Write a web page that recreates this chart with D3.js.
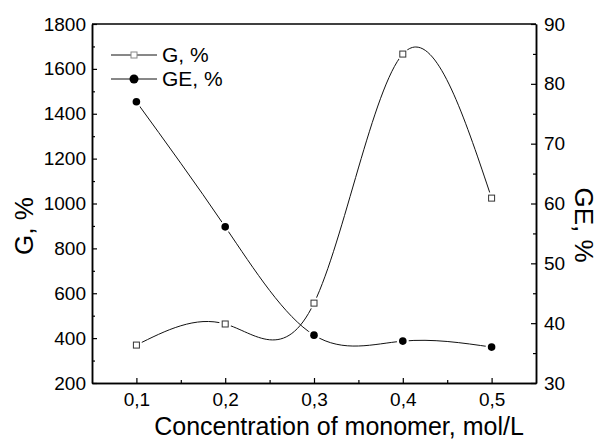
<!DOCTYPE html>
<html>
<head>
<meta charset="utf-8">
<script src="https://cdn.jsdelivr.net/npm/d3@7"></script>
<style>
  body { margin: 0; background: #fff; }
  text { font-family: "Liberation Sans", Arial, sans-serif; fill: #000; }
</style>
</head>
<body>
<script>
'use strict';
(function() {

  // concentration of monomer, mol/L
  const concentration = [0.1, 0.2, 0.3, 0.4, 0.5];
  // grafting percentage G, %
  const gValues = [369, 463, 556, 1666, 1024];
  // grafting efficiency GE, %
  const geValues = [77.0, 56.1, 38.0, 37.0, 36.0];

  const xTicks = [0.1, 0.2, 0.3, 0.4, 0.5];
  const xMinor = [0.15, 0.25, 0.35, 0.45];
  const gTicks = [200, 400, 600, 800, 1000, 1200, 1400, 1600, 1800];
  const gMinor = [300, 500, 700, 900, 1100, 1300, 1500, 1700];
  const geTicks = [30, 40, 50, 60, 70, 80, 90];
  const geMinor = [35, 45, 55, 65, 75, 85];

  const width = 598, height = 442;
  const left = 92, right = 536, top = 24, bottom = 383;

  let svg = d3.select('body').append('svg')
    .attr('width', width)
    .attr('height', height);

  let xScale = d3.scaleLinear().domain([0.05, 0.55]).range([left, right]);
  let gScale = d3.scaleLinear().domain([200, 1800]).range([bottom, top]);
  let geScale = d3.scaleLinear().domain([30, 90]).range([bottom, top]);

  let fmt = d => String(d).replace('.', ',');

  // x axis (ticks point inward)
  svg.append('g')
    .attr('transform', `translate(0,${bottom})`)
    .call(d3.axisBottom(xScale).tickValues(xTicks).tickFormat(fmt)
      .tickSize(-5).tickSizeOuter(0).tickPadding(10))
    .call(styleAxis);
  svg.append('g')
    .attr('transform', `translate(0,${bottom})`)
    .call(d3.axisBottom(xScale).tickValues(xMinor).tickFormat('')
      .tickSize(-3).tickSizeOuter(0))
    .call(styleAxis);

  // left axis G
  svg.append('g')
    .attr('transform', `translate(${left},0)`)
    .call(d3.axisLeft(gScale).tickValues(gTicks).tickFormat(d3.format('d'))
      .tickSize(-5).tickSizeOuter(0).tickPadding(6))
    .call(styleAxis);
  svg.append('g')
    .attr('transform', `translate(${left},0)`)
    .call(d3.axisLeft(gScale).tickValues(gMinor).tickFormat('')
      .tickSize(-3).tickSizeOuter(0))
    .call(styleAxis);

  // right axis GE
  svg.append('g')
    .attr('transform', `translate(${right},0)`)
    .call(d3.axisRight(geScale).tickValues(geTicks).tickFormat(d3.format('d'))
      .tickSize(-5).tickSizeOuter(0).tickPadding(8))
    .call(styleAxis);
  svg.append('g')
    .attr('transform', `translate(${right},0)`)
    .call(d3.axisRight(geScale).tickValues(geMinor).tickFormat('')
      .tickSize(-3).tickSizeOuter(0))
    .call(styleAxis);

  // top frame line
  svg.append('line')
    .attr('x1', left).attr('x2', right)
    .attr('y1', top).attr('y2', top)
    .style('stroke', '#000').style('stroke-width', 1.5);

  function styleAxis(g) {
    g.select('.domain').style('stroke', '#000').style('stroke-width', 1.5);
    g.selectAll('.tick line').style('stroke', '#000').style('stroke-width', 1.2);
    g.selectAll('.tick text').style('font-size', '19px')
      .style('font-family', '"Liberation Sans", Arial, sans-serif');
  }

  // smooth curves
  let gLine = d3.line()
    .x((d, i) => xScale(concentration[i]))
    .y(d => gScale(d))
    .curve(d3.curveNatural);
  let geLine = d3.line()
    .x((d, i) => xScale(concentration[i]))
    .y(d => geScale(d))
    .curve(d3.curveNatural);

  svg.append('path').datum(gValues)
    .attr('d', gLine)
    .style('fill', 'none').style('stroke', '#111').style('stroke-width', 1);
  svg.append('path').datum(geValues)
    .attr('d', geLine)
    .style('fill', 'none').style('stroke', '#111').style('stroke-width', 1);

  // white gaps around symbols like the original plot
  svg.selectAll('.gapG')
    .data(gValues).enter().append('circle')
    .attr('cx', (d, i) => xScale(concentration[i]))
    .attr('cy', d => gScale(d))
    .attr('r', 6)
    .style('fill', '#fff');
  svg.selectAll('.gapGE')
    .data(geValues).enter().append('circle')
    .attr('cx', (d, i) => xScale(concentration[i]))
    .attr('cy', d => geScale(d))
    .attr('r', 6)
    .style('fill', '#fff');

  // markers
  svg.selectAll('.sq')
    .data(gValues).enter().append('rect')
    .attr('x', (d, i) => xScale(concentration[i]) - 3)
    .attr('y', d => gScale(d) - 3)
    .attr('width', 6).attr('height', 6)
    .style('fill', '#fff').style('stroke', '#333').style('stroke-width', 1);
  svg.selectAll('.dot')
    .data(geValues).enter().append('circle')
    .attr('cx', (d, i) => xScale(concentration[i]))
    .attr('cy', d => geScale(d))
    .attr('r', 3.8)
    .style('fill', '#000');

  // legend
  let legend = [
    { label: 'G, %', y: 55, type: 'square' },
    { label: 'GE, %', y: 79, type: 'circle' }
  ];
  legend.forEach(item => {
    svg.append('line')
      .attr('x1', 111).attr('x2', 157)
      .attr('y1', item.y).attr('y2', item.y)
      .style('stroke', '#111').style('stroke-width', 1);
    if (item.type === 'square') {
      svg.append('rect')
        .attr('x', 131).attr('y', item.y - 3)
        .attr('width', 6).attr('height', 6)
        .style('fill', '#fff').style('stroke', '#888').style('stroke-width', 1);
    } else {
      svg.append('circle')
        .attr('cx', 134).attr('cy', item.y).attr('r', 4.5)
        .style('fill', '#000');
    }
    svg.append('text')
      .attr('x', 162).attr('y', item.y + 7)
      .style('font-size', '21px')
      .text(item.label);
  });

  // axis titles
  svg.append('text')
    .attr('x', 339).attr('y', 435)
    .attr('text-anchor', 'middle')
    .style('font-size', '25px')
    .text('Concentration of monomer, mol/L');

  svg.append('text')
    .attr('transform', 'translate(33,226)rotate(-90)')
    .attr('text-anchor', 'middle')
    .style('font-size', '26px')
    .text('G, %');

  svg.append('text')
    .attr('transform', 'translate(575,225)rotate(90)')
    .attr('text-anchor', 'middle')
    .style('font-size', '26px')
    .text('GE, %');
})();
</script>
</body>
</html>
